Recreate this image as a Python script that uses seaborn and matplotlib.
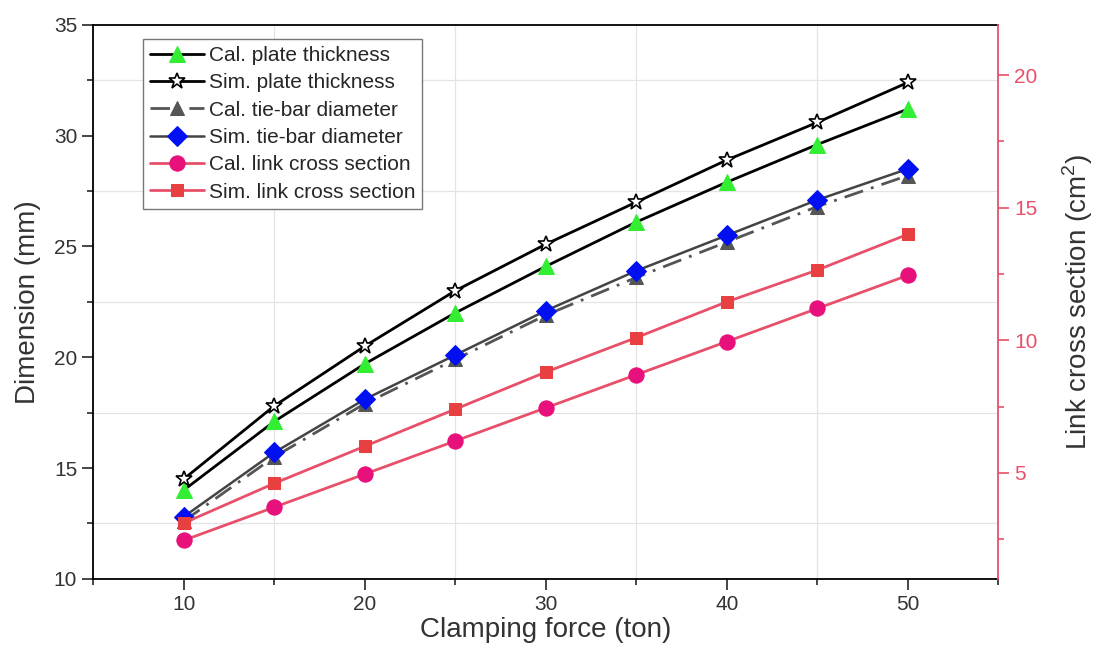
import numpy as np
import pandas as pd
import seaborn as sns
from matplotlib import pyplot as plt
from matplotlib.ticker import MultipleLocator

# clamping force (ton)
force = [10, 15, 20, 25, 30, 35, 40, 45, 50]

# dimensions (mm), left axis
cal_plate = [14.0, 17.1, 19.7, 22.0, 24.1, 26.1, 27.9, 29.6, 31.2]
sim_plate = [14.5, 17.8, 20.5, 23.0, 25.1, 27.0, 28.9, 30.6, 32.4]
cal_tiebar = [12.6, 15.5, 17.9, 19.9, 21.9, 23.6, 25.2, 26.8, 28.2]
sim_tiebar = [12.8, 15.7, 18.1, 20.1, 22.1, 23.9, 25.5, 27.1, 28.5]

# link cross section (cm^2), right axis
cal_link = [2.45, 3.7, 4.95, 6.2, 7.45, 8.7, 9.95, 11.2, 12.45]
sim_link = [3.1, 4.6, 6.0, 7.4, 8.8, 10.1, 11.45, 12.65, 14.0]

labels = [
    "Cal. plate thickness",
    "Sim. plate thickness",
    "Cal. tie-bar diameter",
    "Sim. tie-bar diameter",
    "Cal. link cross section",
    "Sim. link cross section",
]

sns.set_style("ticks")
plt.rcParams["font.family"] = ["Liberation Sans", "DejaVu Sans"]
plt.rcParams["mathtext.fontset"] = "custom"
plt.rcParams["mathtext.rm"] = "Liberation Sans"

pink = "#e8506a"

fig = plt.figure(figsize=(10.96, 6.54), dpi=100)
ax = fig.add_axes([0.085, 0.115, 0.826, 0.847])
ax2 = ax.twinx()

# left axis series
sns.lineplot(x=force, y=cal_plate, ax=ax, color="black", lw=2, marker="^",
             markersize=11, markerfacecolor="#33ee33", markeredgecolor="#33ee33")
sns.lineplot(x=force, y=sim_plate, ax=ax, color="black", lw=2, marker="*",
             markersize=12, markerfacecolor="white", markeredgecolor="black",
             markeredgewidth=1.2)
sns.lineplot(x=force, y=cal_tiebar, ax=ax, color="#555555", lw=2, linestyle=(0, (7, 3, 1, 3)),
             marker="^", markersize=10, markerfacecolor="#555555", markeredgecolor="#555555")
sns.lineplot(x=force, y=sim_tiebar, ax=ax, color="#444444", lw=1.8, marker="D",
             markersize=10, markerfacecolor="#0010f0", markeredgecolor="#0010f0")

# right axis series
sns.lineplot(x=force, y=cal_link, ax=ax2, color=pink, lw=2, marker="o",
             markersize=11, markerfacecolor="#e8107a", markeredgecolor="#e8107a")
sns.lineplot(x=force, y=sim_link, ax=ax2, color=pink, lw=2, marker="s",
             markersize=9, markerfacecolor="#e84040", markeredgecolor="#e84040")

ax.set_xlim(5, 55)
ax.set_ylim(10, 35)
ax2.set_ylim(1, 21.9)

ax.xaxis.set_major_locator(MultipleLocator(10))
ax.xaxis.set_minor_locator(MultipleLocator(5))
ax.yaxis.set_major_locator(MultipleLocator(5))
ax.yaxis.set_minor_locator(MultipleLocator(2.5))
ax2.yaxis.set_major_locator(MultipleLocator(5))
ax2.yaxis.set_minor_locator(MultipleLocator(2.5))

# Origin-style faint grid on the minor ticks
ax.grid(which="minor", color="#e4e4e4", lw=0.9)
ax.grid(which="major", visible=False)

ax.tick_params(axis="both", which="major", length=8, width=1.2, labelsize=15,
               labelcolor="#333333", direction="out")
ax.tick_params(axis="both", which="minor", length=4, width=1.2, direction="out")
ax2.tick_params(axis="y", which="major", length=8, width=1.2, labelsize=15,
                colors=pink)
ax2.tick_params(axis="y", which="minor", length=4, width=1.2, colors=pink)

for side in ["left", "bottom", "top"]:
    ax.spines[side].set_linewidth(1.3)
    ax.spines[side].set_color("black")
ax.spines["right"].set_visible(False)
ax2.spines["right"].set_color(pink)
ax2.spines["right"].set_linewidth(1.3)
ax2.spines["left"].set_visible(False)
ax2.spines["top"].set_visible(False)
ax2.spines["bottom"].set_visible(False)

ax.set_xlabel("Clamping force (ton)", fontsize=20, color="#333333", labelpad=2)
ax.set_ylabel("Dimension (mm)", fontsize=20, color="#333333", labelpad=9)
ax2.set_ylabel("Link cross section (cm$^2$)", fontsize=20, color="#333333", labelpad=16)

handles = ax.get_lines()[:4] + ax2.get_lines()[:2]
leg = ax2.legend(handles, labels, loc="upper left", bbox_to_anchor=(0.055, 0.975),
                 fontsize=15, frameon=True, fancybox=False, edgecolor="#777777",
                 framealpha=1, handlelength=2.6, borderpad=0.35, labelspacing=0.4,
                 handletextpad=0.2, borderaxespad=0)
leg.get_frame().set_linewidth(1.0)

fig.savefig("out.png", dpi=100)
